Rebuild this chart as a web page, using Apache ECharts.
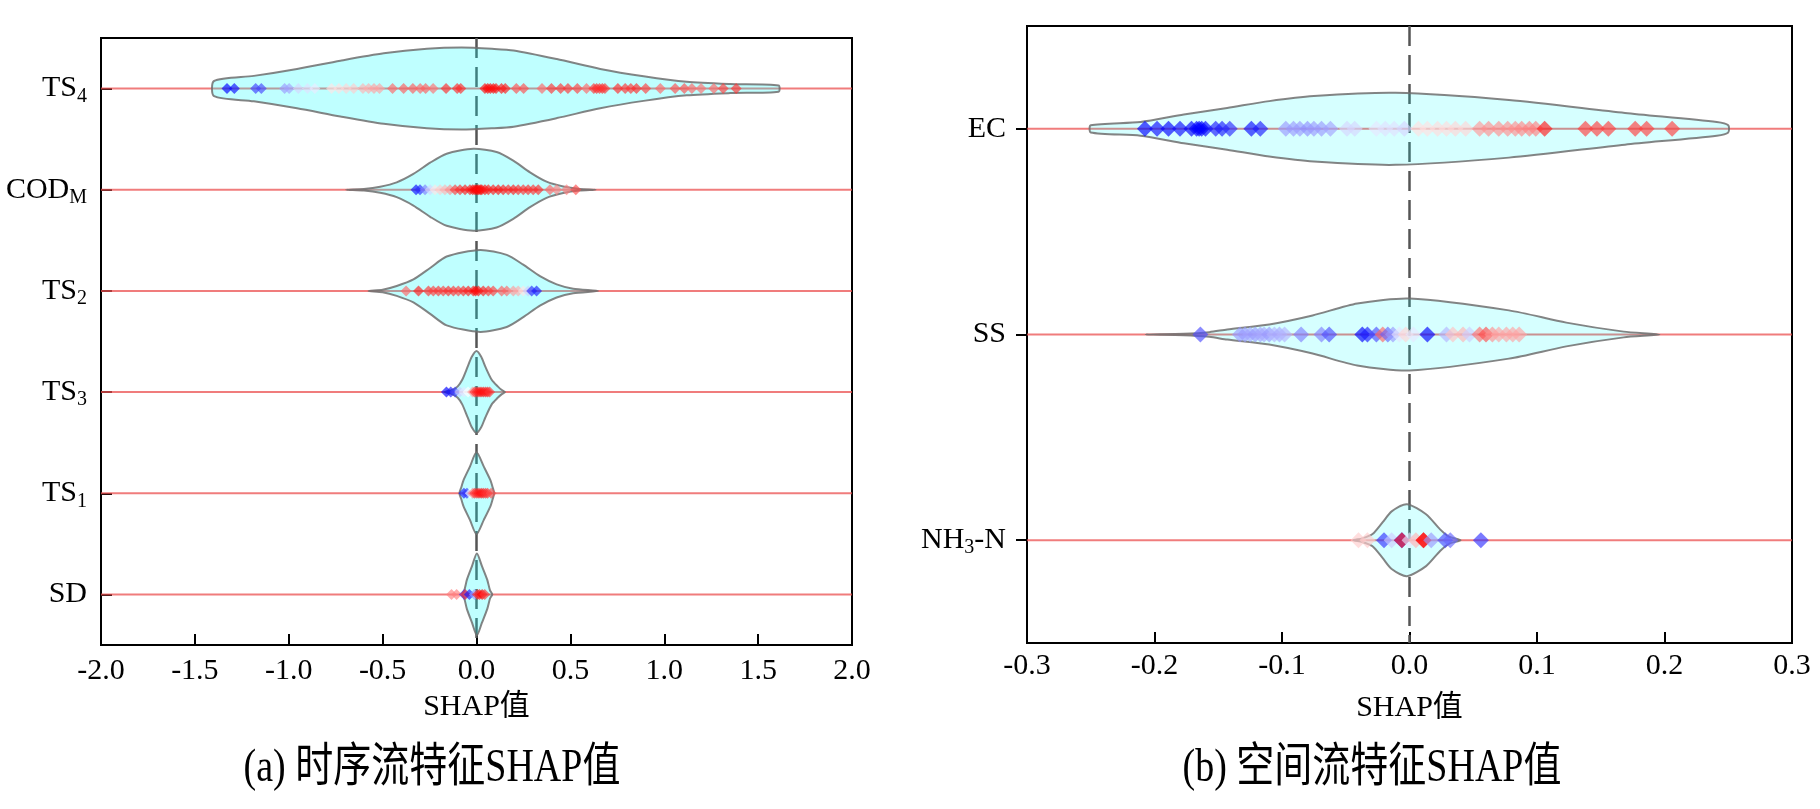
<!DOCTYPE html>
<html>
<head>
<meta charset="utf-8">
<script src="https://cdn.jsdelivr.net/npm/echarts@6/dist/echarts.min.js"></script>
<style>html,body{margin:0;padding:0;background:#fff;}#c{width:1820px;height:809px;}</style>
</head>
<body>
<div id="c"></div>
<script>
// ---------- categories ----------
const catsA = ['TS_4', 'COD_M', 'TS_2', 'TS_3', 'TS_1', 'SD'];
const catsB = ['EC', 'SS', 'NH_3-N'];
const xRangeA = [-2.0, 2.0], xStepA = 0.5;
const xRangeB = [-0.3, 0.3], xStepB = 0.1;
const titleA = '(a) 时序流特征SHAP值';
const titleB = '(b) 空间流特征SHAP值';
const axisNameX = 'SHAP值';

// ---------- points: [SHAP value, feature value (0 low .. 1 high)] ----------
const ptsTS4 = [[-1.329,0.00],[-1.290,0.02],[-1.176,0.12],[-1.146,0.14],[-1.022,0.30],[-0.998,0.32],[-0.949,0.42],[-0.900,0.44],[-0.861,0.46],[-0.772,0.55],[-0.733,0.56],[-0.694,0.58],[-0.654,0.60],[-0.605,0.65],[-0.575,0.66],[-0.546,0.68],[-0.517,0.68],[-0.447,0.80],[-0.388,0.82],[-0.339,0.82],[-0.300,0.80],[-0.271,0.82],[-0.231,0.78],[-0.162,0.92],[-0.103,0.92],[-0.084,0.92],[0.045,0.98],[0.060,0.99],[0.074,0.98],[0.090,0.98],[0.104,0.97],[0.133,0.96],[0.153,0.95],[0.212,0.85],[0.251,0.85],[0.349,0.80],[0.399,0.90],[0.448,0.90],[0.487,0.90],[0.537,0.88],[0.586,0.80],[0.625,0.90],[0.640,0.92],[0.655,0.90],[0.670,0.92],[0.684,0.90],[0.753,0.92],[0.792,0.90],[0.822,0.90],[0.852,0.92],[0.901,0.88],[0.979,0.80],[1.058,0.85],[1.107,0.85],[1.147,0.80],[1.196,0.78],[1.264,0.80],[1.314,0.88],[1.383,0.90]];
const ptsCOD = [[-0.322,0.02],[-0.301,0.08],[-0.274,0.25],[-0.247,0.42],[-0.221,0.55],[-0.194,0.60],[-0.168,0.65],[-0.141,0.72],[-0.114,0.88],[-0.088,0.92],[-0.061,0.95],[-0.035,0.95],[-0.020,0.98],[-0.008,1.00],[0.002,1.00],[0.010,0.98],[0.020,1.00],[0.028,0.98],[0.045,0.97],[0.063,0.95],[0.089,0.95],[0.116,0.97],[0.142,0.95],[0.169,0.92],[0.196,0.95],[0.222,0.92],[0.249,0.90],[0.275,0.92],[0.302,0.90],[0.329,0.92],[0.391,0.80],[0.427,0.75],[0.480,0.75],[0.529,0.85]];
const ptsTS2 = [[-0.375,0.80],[-0.309,0.95],[-0.256,0.90],[-0.230,0.88],[-0.203,0.90],[-0.177,0.88],[-0.150,0.92],[-0.123,0.90],[-0.097,0.88],[-0.070,0.92],[-0.044,0.95],[-0.017,0.95],[-0.005,1.00],[0.010,0.98],[0.036,0.95],[0.063,0.90],[0.089,0.88],[0.134,0.82],[0.161,0.80],[0.196,0.70],[0.222,0.66],[0.249,0.55],[0.275,0.40],[0.294,0.08],[0.320,0.05]];
const ptsTS3 = [[-0.160,0.00],[-0.137,0.05],[-0.114,0.12],[-0.090,0.40],[-0.067,0.45],[-0.045,0.50],[-0.021,0.70],[-0.010,0.90],[0.002,0.92],[0.013,0.95],[0.024,0.97],[0.036,0.97],[0.048,0.95],[0.059,0.95],[0.070,0.90]];
const ptsTS1 = [[-0.067,0.05],[-0.051,0.10],[-0.033,0.50],[-0.020,0.75],[-0.010,0.90],[0.002,0.92],[0.013,0.95],[0.025,0.97],[0.036,0.95],[0.048,0.92],[0.059,0.90],[0.078,0.85]];
const ptsSD  = [[-0.133,0.75],[-0.106,0.75],[-0.065,0.10],[-0.060,0.90],[-0.038,0.05],[-0.011,0.30],[0.005,0.92],[0.016,0.95],[0.030,1.00],[0.044,0.90]];
const ptsEC  = [[-0.2075,0.00],[-0.198,0.02],[-0.189,0.00],[-0.180,0.02],[-0.171,0.00],[-0.167,0.00],[-0.165,0.00],[-0.163,0.00],[-0.160,0.00],[-0.152,0.05],[-0.147,0.05],[-0.141,0.08],[-0.124,0.02],[-0.117,0.05],[-0.097,0.30],[-0.091,0.30],[-0.086,0.30],[-0.080,0.28],[-0.075,0.30],[-0.069,0.30],[-0.062,0.32],[-0.049,0.42],[-0.043,0.42],[-0.026,0.45],[-0.019,0.44],[-0.012,0.44],[-0.004,0.42],[0.007,0.56],[0.014,0.56],[0.022,0.57],[0.029,0.57],[0.036,0.58],[0.044,0.58],[0.055,0.70],[0.062,0.72],[0.070,0.72],[0.077,0.72],[0.083,0.72],[0.088,0.74],[0.094,0.75],[0.099,0.75],[0.106,0.95],[0.138,0.88],[0.147,0.88],[0.156,0.88],[0.177,0.88],[0.186,0.88],[0.206,0.88]];
const ptsSS  = [[-0.164,0.15],[-0.133,0.30],[-0.129,0.30],[-0.125,0.32],[-0.121,0.30],[-0.117,0.32],[-0.114,0.33],[-0.110,0.30],[-0.106,0.35],[-0.102,0.33],[-0.098,0.35],[-0.085,0.25],[-0.069,0.25],[-0.063,0.15],[-0.037,0.00],[-0.033,0.05],[-0.026,0.15],[-0.021,0.80],[-0.017,0.20],[-0.013,0.30],[-0.008,0.45],[-0.003,0.58],[0.003,0.45],[0.014,0.00],[0.029,0.35],[0.034,0.62],[0.042,0.65],[0.047,0.40],[0.055,0.78],[0.060,0.85],[0.065,0.72],[0.070,0.68],[0.076,0.68],[0.081,0.68],[0.086,0.68]];
const ptsNH3 = [[-0.040,0.60],[-0.033,0.60],[-0.020,0.10],[-0.014,0.40],[-0.006,0.00],[-0.006,0.95],[0.000,0.45],[0.005,0.65],[0.011,0.90],[0.011,1.00],[0.017,0.30],[0.028,0.15],[0.032,0.20],[0.056,0.10]];

// ---------- violin outlines: [SHAP value, relative density (max = 1)] ----------
const densTS4 = [[-1.398,0.185],[-1.186,0.31],[-0.956,0.48],[-0.725,0.68],[-0.494,0.86],[-0.264,0.97],[-0.080,1.0],[0.082,0.97],[0.198,0.93],[0.428,0.72],[0.659,0.48],[0.890,0.30],[1.120,0.165],[1.351,0.11],[1.609,0.075]];
const densCOD = [[-0.694,0],[-0.600,0.02],[-0.513,0.074],[-0.425,0.18],[-0.336,0.386],[-0.247,0.66],[-0.159,0.88],[-0.017,1.0],[0.107,0.92],[0.196,0.71],[0.285,0.425],[0.373,0.197],[0.462,0.08],[0.550,0.02],[0.634,0]];
const densTS2 = [[-0.575,0],[-0.500,0.03],[-0.425,0.12],[-0.336,0.28],[-0.247,0.56],[-0.159,0.84],[0.019,1.0],[0.161,0.88],[0.249,0.64],[0.338,0.36],[0.427,0.16],[0.515,0.055],[0.648,0]];
const densTS3 = [[-0.170,0],[-0.130,0.05],[-0.100,0.14],[-0.076,0.30],[-0.047,0.62],[-0.025,0.86],[0.000,1.0],[0.025,0.86],[0.047,0.62],[0.081,0.30],[0.113,0.14],[0.135,0.05],[0.152,0]];
const densTS1 = [[-0.091,0],[-0.080,0.16],[-0.069,0.32],[-0.035,0.65],[0.000,1.0],[0.039,0.65],[0.074,0.32],[0.085,0.16],[0.094,0]];
const densSD  = [[-0.078,0],[-0.065,0.10],[-0.051,0.36],[-0.024,0.69],[0.002,1.0],[0.029,0.69],[0.057,0.36],[0.072,0.10],[0.084,0]];
const densEC  = [[-0.250,0.10],[-0.211,0.19],[-0.177,0.40],[-0.143,0.58],[-0.110,0.77],[-0.075,0.91],[-0.011,1.0],[0.078,0.80],[0.169,0.44],[0.241,0.19],[0.250,0.10]];
const densSS  = [[-0.207,0],[-0.177,0.02],[-0.157,0.065],[-0.143,0.14],[-0.110,0.28],[-0.076,0.53],[-0.041,0.86],[0.000,1.0],[0.078,0.67],[0.123,0.33],[0.168,0.08],[0.196,0]];
const densNH3 = [[-0.044,0],[-0.037,0.05],[-0.029,0.17],[-0.021,0.50],[-0.014,0.80],[-0.002,1.0],[0.013,0.72],[0.024,0.30],[0.031,0.10],[0.040,0]];

const ptsA = [ptsTS4, ptsCOD, ptsTS2, ptsTS3, ptsTS1, ptsSD];
const ptsB = [ptsEC, ptsSS, ptsNH3];
const densA = [densTS4, densCOD, densTS2, densTS3, densTS1, densSD];
const densB = [densEC, densSS, densNH3];

// ---------- rendering ----------
const FONT = "'Liberation Serif', 'Times New Roman', 'Noto Sans CJK SC', serif";
const chart = echarts.init(document.getElementById('c'), null, {renderer: 'canvas'});

function catLabel(name) {
  return '{n|' + name.replace(/_(\w)/g, '}{s|$1}{n|') + '}';
}
function tickFmt(v) { return Math.abs(v) < 1e-9 ? '0.0' : v.toFixed(1); }

function hlineRender(params, api) {
  const y = api.coord([0, api.value(1)])[1];
  const cs = params.coordSys;
  return {type: 'line', shape: {x1: cs.x, y1: y, x2: cs.x + cs.width, y2: y},
          style: {stroke: 'rgba(235,80,80,0.75)', lineWidth: 2}};
}
function zeroRender(params, api) {
  const x = api.coord([api.value(0), 0])[0];
  const cs = params.coordSys;
  return {type: 'line', shape: {x1: x, y1: cs.y, x2: x, y2: cs.y + cs.height},
          style: {stroke: '#555', lineWidth: 2.5, lineDash: [20, 9]}};
}
function violinRender(dens, halfFrac, fill) {
  return function (params, api) {
    const prof = dens[params.dataIndex];
    const cat = api.value(1);
    const band = api.size([0, 1])[1];
    const top = [], bot = [];
    prof.forEach(function (p, k) {
      const c = api.coord([p[0], cat]);
      const h = p[1] * halfFrac * band;
      top.push([c[0], c[1] - h]);
      if (!(p[1] === 0 && (k === 0 || k === prof.length - 1))) bot.push([c[0], c[1] + h]);
    });
    const pts = top.concat(bot.reverse());
    return {type: 'polygon', shape: {points: pts, smooth: 0.25},
            style: {fill: fill, stroke: 'rgba(110,110,110,0.85)', lineWidth: 2}};
  };
}
function scatterData(pts) {
  const out = [];
  pts.forEach(function (arr, ci) { arr.forEach(function (p) { out.push([p[0], ci, p[1]]); }); });
  return out;
}

function xAxisCfg(gi, range, step, margin, gap) {
  return {
    gridIndex: gi, type: 'value', min: range[0], max: range[1], interval: step,
    axisLine: {show: true, onZero: false, lineStyle: {color: '#000', width: 2}},
    axisTick: {show: true, inside: true, length: 11, lineStyle: {color: '#000', width: 2}},
    splitLine: {show: false},
    axisLabel: {margin: margin, fontSize: 30, color: '#000', fontFamily: FONT, formatter: tickFmt,
                showMinLabel: true, showMaxLabel: true, hideOverlap: false},
    name: axisNameX, nameLocation: 'middle', nameGap: gap,
    nameTextStyle: {fontSize: 30, color: '#000', fontFamily: FONT}
  };
}
function yAxisCfg(gi, cats, inside, margin, fs) {
  return {
    gridIndex: gi, type: 'category', data: cats, inverse: true,
    axisLine: {show: true, onZero: false, lineStyle: {color: '#000', width: 2}},
    axisTick: {show: true, inside: inside, alignWithLabel: true, length: 11, lineStyle: {color: '#000', width: 2}},
    splitLine: {show: false},
    axisLabel: {margin: margin, formatter: catLabel, color: '#000',
      rich: {
        n: {fontSize: fs, lineHeight: 36, fontFamily: FONT, color: '#000'},
        s: {fontSize: Math.round(fs * 0.65), lineHeight: 16, verticalAlign: 'bottom', fontFamily: FONT, color: '#000'}
      }}
  };
}

function panelSeries(gi, cats, dens, pts, halfFrac, fill, symSize) {
  return [
    {type: 'custom', xAxisIndex: gi, yAxisIndex: gi, z: 1, silent: true,
     data: cats.map(function (c, i) { return [0, i]; }), renderItem: hlineRender},
    {type: 'custom', xAxisIndex: gi, yAxisIndex: gi, z: 2, silent: true,
     data: [[0, 0]], renderItem: zeroRender},
    {type: 'custom', xAxisIndex: gi, yAxisIndex: gi, z: 3, silent: true,
     data: cats.map(function (c, i) { return [0, i]; }), renderItem: violinRender(dens, halfFrac, fill)},
    {type: 'scatter', xAxisIndex: gi, yAxisIndex: gi, z: 4, silent: true,
     symbol: 'diamond', symbolSize: symSize, data: scatterData(pts),
     itemStyle: {opacity: 0.65}}
  ];
}

function titleText(text, x) {
  return {type: 'text', x: x, y: 769, scaleY: 1.22, silent: true,
          style: {text: text, fontSize: 38, fontFamily: FONT, fill: '#000',
                  align: 'center', verticalAlign: 'middle', textAlign: 'center', textVerticalAlign: 'middle'}};
}

const option = {
  animation: false,
  backgroundColor: '#fff',
  textStyle: {fontFamily: FONT},
  grid: [
    {left: 101, top: 38, width: 751, height: 607, show: true, borderColor: '#000', borderWidth: 2, backgroundColor: 'transparent'},
    {left: 1027, top: 26, width: 765, height: 617, show: true, borderColor: '#000', borderWidth: 2, backgroundColor: 'transparent'}
  ],
  xAxis: [xAxisCfg(0, xRangeA, xStepA, 11, 47), xAxisCfg(1, xRangeB, xStepB, 8, 50)],
  yAxis: [yAxisCfg(0, catsA, true, 14, 30), yAxisCfg(1, catsB, false, 21, 30)],
  visualMap: [{
    type: 'continuous', show: false, seriesIndex: [3, 7], dimension: 2, min: 0, max: 1,
    inRange: {color: ['#0000ff', '#ffffff', '#ff0000']}
  }],
  series: [].concat(
    panelSeries(0, catsA, densA, ptsA, 0.405, 'rgba(0,255,255,0.25)', 11),
    panelSeries(1, catsB, densB, ptsB, 0.175, 'rgba(0,255,255,0.16)', 16)
  ),
  graphic: [titleText(titleA, 432), titleText(titleB, 1372)]
};
chart.setOption(option);
</script>
</body>
</html>
